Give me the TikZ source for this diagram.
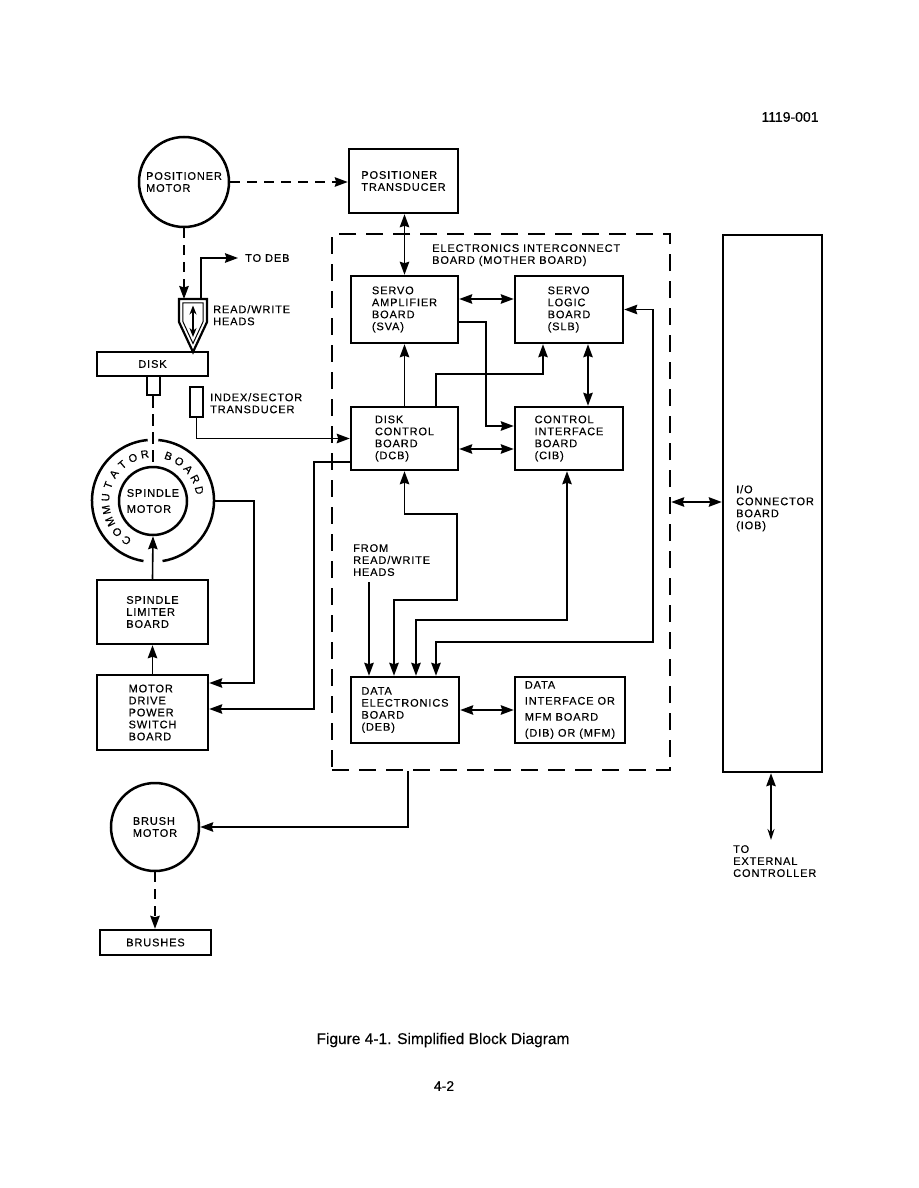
\documentclass[tikz,border=0pt]{standalone}
\usepackage{fontspec}
\setmainfont{Liberation Sans}
\newfontfamily\lbfam[LetterSpace=8,FakeBold=0.3]{Liberation Sans}
\newfontfamily\capfam[FakeBold=0.4]{Liberation Sans}
\newcommand{\dgfont}{\lbfam\fontsize{11}{12}\selectfont}
\usetikzlibrary{arrows.meta,calc}
\begin{document}
\begin{tikzpicture}[x=1pt,y=-1pt,
 >={Stealth[length=13pt,width=9.5pt,inset=1.5pt]},
 box/.style={draw,line width=2.5pt,inner sep=0pt,align=left,font=\dgfont},
 circ/.style={draw,circle,line width=2.5pt,inner sep=0pt,align=left,font=\dgfont},
 lbl/.style={inner sep=0pt,align=left,anchor=north west,font=\dgfont},
 conn/.style={line width=1.6pt},
 dconn/.style={line width=1.7pt,dash pattern=on 10pt off 7pt},
]
\useasboundingbox (0,0) rectangle (918,1188);

\node[inner sep=0pt,font=\capfam\fontsize{14}{16}\selectfont] (fignum) at (790,117) {1119-001};

% top
\node[circ,minimum size=90pt] (pm) at (184,182) {POSITIONER\\MOTOR};
\node[box,minimum width=109pt,minimum height=64pt] (pt) at (403.5,181) {POSITIONER\\TRANSDUCER};

% mother board
\node[draw,line width=2.5pt,dash pattern=on 17pt off 10pt,minimum width=338pt,minimum height=536pt,inner sep=0pt] (mb) at (501,502) {};
\node[lbl] (mblbl) at (432,244) {ELECTRONICS INTERCONNECT\\BOARD (MOTHER BOARD)};

\node[box,minimum width=107pt,minimum height=67pt] (sva) at (404.5,309.5) {SERVO\\AMPLIFIER\\BOARD\\(SVA)};
\node[box,minimum width=108pt,minimum height=67pt] (slb) at (569,309.5) {SERVO\\LOGIC\\BOARD\\(SLB)};
\node[box,minimum width=107pt,minimum height=63pt] (dcb) at (404.5,438.5) {DISK\\CONTROL\\BOARD\\(DCB)};
\node[box,minimum width=108pt,minimum height=63pt] (cib) at (569,438.5) {CONTROL\\INTERFACE\\BOARD\\(CIB)};
\node[box,minimum width=108pt,minimum height=66pt] (deb) at (405,710) {DATA\\ELECTRONICS\\BOARD\\(DEB)};
\node[box,minimum width=110pt,minimum height=66pt] (dib) at (570,710) {DATA\\[4pt]INTERFACE OR\\[4pt]MFM BOARD\\[4pt](DIB) OR (MFM)};
\node[lbl] (frlbl) at (353,544) {FROM\\READ/WRITE\\HEADS};
\coordinate (frw) at (369,582);

% IOB
\node[box,minimum width=99pt,minimum height=537pt] (iob) at (772.5,503.5) {};
\node[lbl] (ioblbl) at (736,485) {I/O\\CONNECTOR\\BOARD\\(IOB)};
\node[lbl] (extlbl) at (733,845) {TO\\EXTERNAL\\CONTROLLER};
\coordinate (ext) at (771,840);

% left column
\node[box,minimum width=111pt,minimum height=24pt,align=center] (disk) at (152.5,364) {DISK};
\node[box,line width=2pt,minimum width=13pt,minimum height=19pt] (shaft) at (153.5,385.5) {};
\node[box,line width=2pt,minimum width=13pt,minimum height=30pt] (isx) at (196.5,402) {};
\node[lbl] (isxlbl) at (210,393) {INDEX/SECTOR\\TRANSDUCER};

\node[circle,minimum size=122pt,inner sep=0pt] (ring) at (153,501) {};
\draw[line width=2.5pt] (ring.85) arc[start angle=85,end angle=-81,radius=61pt];
\draw[line width=2.5pt] (ring.95) arc[start angle=95,end angle=261,radius=61pt];
\node[circ,minimum size=68pt] (spm) at (153,501) {SPINDLE\\[4pt]MOTOR};
\foreach \l/\a [count=\i] in {C/236,O/220.9,M/205.8,M/190.7,U/175.6,T/160.4,A/145.3,T/130.2,O/115.1,R/100,B/71,O/56.5,A/42,R/27.5,D/13}
  \node[inner sep=0pt,font=\dgfont,rotate=\a-90] (rl\i) at ([shift={(\a:47.5pt)}]ring.center) {\l};

\node[box,minimum width=111pt,minimum height=64pt] (slm) at (152.5,612) {SPINDLE\\LIMITER\\BOARD};
\node[box,minimum width=111pt,minimum height=75pt] (mdps) at (152.5,712.5) {MOTOR\\DRIVE\\POWER\\SWITCH\\BOARD};
\node[circ,minimum size=88pt] (bm) at (155,827) {BRUSH\\MOTOR};
\node[box,minimum width=111pt,minimum height=25pt,align=center] (brushes) at (155.5,942.5) {BRUSHES};

% read/write heads
\draw[line width=2.2pt,line join=miter] (179,299) -- (207,299) -- (207,322) -- (193,352) -- (179,322) -- cycle;
\draw[line width=1pt] (182.8,302.8) -- (203.2,302.8) -- (203.2,321.4) -- (193,343.5) -- (182.8,321.4) -- cycle;
\draw[conn,{Stealth[length=9pt,width=7pt]}-{Stealth[length=9pt,width=7pt]}] (193,305.5) -- (193,337);
\coordinate (headtop) at (184,299);
\coordinate (headdeb) at (201,299);
\node[lbl] (rwlbl) at (213,305) {READ/WRITE\\HEADS};
\node[lbl,anchor=west] (todeb) at (245,258) {TO DEB};

% connectors
\draw[dconn,->] (pm.east) -- (pm.east -| pt.west);
\draw[dconn,->] (pm.south) -- (headtop);
\draw[conn,->] (headdeb) |- ([xshift=-7pt]todeb.west);
\draw[conn,<->] (sva.north |- pt.south) -- (sva.north);
\draw[conn,<->] ([yshift=10.5pt]sva.east) -- ([yshift=10.5pt]slb.west);
\draw[conn,->] ([yshift=-12.5pt]sva.east) -| ([xshift=-28pt,yshift=12.5pt]cib.west) -- ([yshift=12.5pt]cib.west);
\draw[conn,->] (dcb.north) -- (sva.south);
\draw[conn,->] ([xshift=31.5pt]dcb.north) |- ([xshift=-26pt,yshift=-30pt]slb.south) -- ([xshift=-26pt]slb.south);
\draw[conn,<->] ([xshift=19pt]slb.south) -- ([xshift=19pt]cib.north);
\draw[conn,<->] ([yshift=-10.5pt]dcb.east) -- ([yshift=-10.5pt]cib.west);
\draw[conn,->] (isx.south) |- (dcb.west);
\draw[conn,->] ([yshift=-23.5pt]dcb.west) -| ([xshift=105pt,yshift=3.5pt]mdps.east) -- ([yshift=3.5pt]mdps.east);
\draw[conn,->] (ring.east) -| ([xshift=45pt,yshift=29.5pt]mdps.east) -- ([yshift=29.5pt]mdps.east);
\draw[conn,->] (slm.north) -- (spm.south);
\draw[conn,->] (mdps.north) -- (slm.south);
\draw[line width=1.6pt,dash pattern=on 12pt off 6pt] (spm.north |- shaft.south) -- (spm.north);
\coordinate (b1) at (457,514);
\coordinate (b2) at (394,600);
\coordinate (b3) at (416,620);
\coordinate (b4) at (653,642);
\draw[conn,<->] (dcb.south) |- (b1) |- (b2) -- (b2 |- deb.north);
\draw[conn,<->] ([xshift=-2pt]cib.south) |- (b3) -- (b3 |- deb.north);
\draw[conn,<->] (slb.east) -| (b4) -| ([xshift=31pt]deb.north);
\draw[conn,->] (frw) -- (frw |- deb.north);
\draw[conn,<->] (deb.east) -- (dib.west);
\draw[conn,<->] (mb.east) -- (mb.east -| iob.west);
\draw[conn,->] ([xshift=-93pt]mb.south) |- (bm.east);
\draw[dconn,->] (bm.south) -- (bm.south |- brushes.north);
\draw[conn,{Stealth[length=13pt,width=9.5pt,inset=1.5pt]}-{Stealth[open,length=11pt,width=7pt]}] ([xshift=-1.5pt]iob.south) -- (ext);

% caption
\node[font=\capfam\fontsize{15.5}{18}\selectfont] (cap) at (443,1040) {Figure 4-1. Simplified Block Diagram};
\node[font=\capfam\fontsize{14}{16}\selectfont] (pg) at (444,1086) {4-2};
\end{tikzpicture}
\end{document}
